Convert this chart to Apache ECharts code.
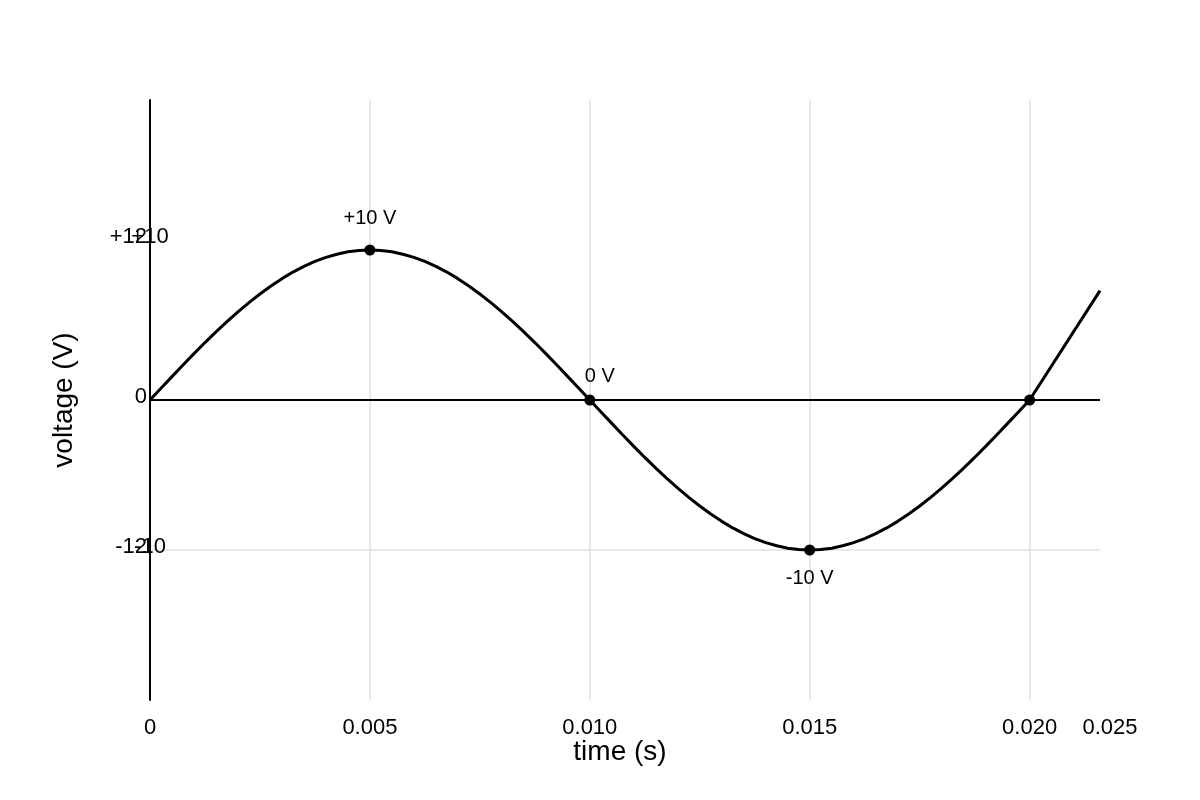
<!DOCTYPE html>
<html>
<head>
<meta charset="UTF-8">
<title>voltage (V) - time (s)</title>
<script src="https://cdn.jsdelivr.net/npm/echarts@6/dist/echarts.min.js"></script>
<style>
    html, body { margin: 0; padding: 0; background: #fff; }
    #main { width: 1200px; height: 800px; }
</style>
</head>
<body>
<div id="main"></div>
<script type="text/javascript">
    // 曲线数据（从图上读取，每 0.00025 s 一个点）
    var times = [0, 0.00025, 0.0005, 0.00075, 0.001, 0.00125, 0.0015, 0.00175, 0.002, 0.00225,
        0.0025, 0.00275, 0.003, 0.00325, 0.0035, 0.00375, 0.004, 0.00425, 0.0045, 0.00475,
        0.005, 0.00525, 0.0055, 0.00575, 0.006, 0.00625, 0.0065, 0.00675, 0.007, 0.00725,
        0.0075, 0.00775, 0.008, 0.00825, 0.0085, 0.00875, 0.009, 0.00925, 0.0095, 0.00975,
        0.01, 0.01025, 0.0105, 0.01075, 0.011, 0.01125, 0.0115, 0.01175, 0.012, 0.01225,
        0.0125, 0.01275, 0.013, 0.01325, 0.0135, 0.01375, 0.014, 0.01425, 0.0145, 0.01475,
        0.015, 0.01525, 0.0155, 0.01575, 0.016, 0.01625, 0.0165, 0.01675, 0.017, 0.01725,
        0.0175, 0.01775, 0.018, 0.01825, 0.0185, 0.01875, 0.019, 0.01925, 0.0195, 0.01975,
        0.02, 0.0216];
    var volts = [0, 0.78, 1.56, 2.33, 3.09, 3.83, 4.54, 5.22, 5.88, 6.49,
        7.07, 7.6, 8.09, 8.53, 8.91, 9.24, 9.51, 9.72, 9.88, 9.97,
        10, 9.97, 9.88, 9.72, 9.51, 9.24, 8.91, 8.53, 8.09, 7.6,
        7.07, 6.49, 5.88, 5.22, 4.54, 3.83, 3.09, 2.33, 1.56, 0.78,
        0, -0.78, -1.56, -2.33, -3.09, -3.83, -4.54, -5.22, -5.88, -6.49,
        -7.07, -7.6, -8.09, -8.53, -8.91, -9.24, -9.51, -9.72, -9.88, -9.97,
        -10, -9.97, -9.88, -9.72, -9.51, -9.24, -8.91, -8.53, -8.09, -7.6,
        -7.07, -6.49, -5.88, -5.22, -4.54, -3.83, -3.09, -2.33, -1.56, -0.78,
        0, 7.29];

    // 标记点
    var markTimes = [0.005, 0.010, 0.015, 0.020];
    var markVolts = [10, 0, -10, 0];
    var markLabels = ['+10 V', '0 V', '-10 V', ''];

    // 刻度标签
    var xTickLabels = ['0', '0.005', '0.010', '0.015', '0.020', '0.025'];
    var yTickLabelsA = ['', '-12', '0', '+12', ''];
    var yTickLabelsB = ['', '-10', '', '+10', ''];

    var FONT = "'Liberation Sans', Arial, sans-serif";

    // 标签位置样式
    var labelPlace = [
        {position: 'top', distance: 16, offset: [0, 0]},
        {position: 'top', distance: 8, offset: [10, 0]},
        {position: 'bottom', distance: 13, offset: [0, 0]},
        {position: 'top', distance: 8, offset: [0, 0]}
    ];

    var linePoints = times.map(function (t, i) { return [t, volts[i]]; });
    var markPoints = markTimes.map(function (t, i) {
        return {
            value: [t, markVolts[i]],
            label: {
                show: markLabels[i] !== '',
                formatter: markLabels[i],
                position: labelPlace[i].position,
                distance: labelPlace[i].distance,
                offset: labelPlace[i].offset,
                color: '#000',
                fontSize: 20,
                fontFamily: FONT
            }
        };
    });

    function yRich(extraUp) {
        return {fontSize: 22, fontFamily: FONT, color: '#000', padding: [0, 0, extraUp, 0]};
    }
    function yFmt(list) {
        return function (value, index) {
            var s = list[index] || '';
            if (!s) return '';
            return (value > 0 ? '{up|' : '{dn|') + s + '}';
        };
    }

    var myChart = echarts.init(document.getElementById('main'));
    var option = {
        backgroundColor: '#fff',
        animation: false,
        grid: {left: 150, right: 100, top: 100, bottom: 100, containLabel: false, outerBoundsMode: 'none'},
        xAxis: {
            type: 'value',
            min: 0,
            max: 0.0216,
            interval: 0.005,
            name: 'time (s)',
            nameLocation: 'middle',
            nameGap: 38,
            nameMoveOverlap: false,
            nameTextStyle: {fontSize: 28, fontFamily: FONT, color: '#000', padding: [0, 10, 0, 0]},
            axisLine: {show: false},
            axisTick: {show: false},
            axisLabel: {
                margin: 17,
                fontSize: 22,
                fontFamily: FONT,
                color: '#000',
                hideOverlap: false,
                formatter: function (value, index) {
                    var s = xTickLabels[index] || '';
                    return index === xTickLabels.length - 1 ? '{last|' + s + '}' : s;
                },
                rich: {last: {fontSize: 22, fontFamily: FONT, color: '#000', padding: [0, 0, 0, 20]}}
            },
            splitLine: {
                show: true,
                showMinLine: false,
                showMaxLine: false,
                lineStyle: {color: '#e0e0e0', width: 1.5}
            }
        },
        yAxis: [
            {
                type: 'value',
                min: -20,
                max: 20,
                interval: 10,
                name: 'voltage (V)',
                nameLocation: 'middle',
                nameGap: 72,
                nameTextStyle: {fontSize: 28, fontFamily: FONT, color: '#000'},
                axisLine: {show: true, lineStyle: {color: '#000', width: 2}},
                axisTick: {show: false},
                axisLabel: {
                    margin: 3,
                    align: 'right',
                    formatter: yFmt(yTickLabelsA),
                    rich: {up: yRich(26), dn: yRich(6)}
                },
                splitLine: {
                    show: true,
                    showMinLine: false,
                    showMaxLine: false,
                    lineStyle: {color: ['#e0e0e0', '#e0e0e0', 'rgba(0,0,0,0)', '#e0e0e0', '#e0e0e0'], width: 1.5}
                }
            },
            {
                type: 'value',
                min: -20,
                max: 20,
                interval: 10,
                position: 'left',
                axisLine: {show: false},
                axisTick: {show: false},
                axisLabel: {
                    margin: 0,
                    align: 'center',
                    formatter: yFmt(yTickLabelsB),
                    rich: {up: yRich(26), dn: yRich(6)}
                },
                splitLine: {show: false}
            }
        ],
        series: [
            {
                name: 'voltage',
                type: 'line',
                data: linePoints,
                symbol: 'none',
                clip: true,
                z: 3,
                lineStyle: {color: '#000', width: 3},
                markLine: {
                    silent: true,
                    symbol: ['none', 'none'],
                    label: {show: false},
                    lineStyle: {color: '#000', width: 2, type: 'solid'},
                    data: [{yAxis: 0}]
                }
            },
            {
                name: 'marks',
                type: 'scatter',
                data: markPoints,
                symbol: 'circle',
                symbolSize: 11,
                z: 4,
                itemStyle: {color: '#000', opacity: 1}
            }
        ]
    };
    myChart.setOption(option);
</script>
</body>
</html>
